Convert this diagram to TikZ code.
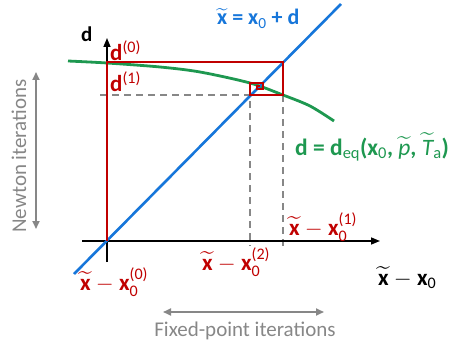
\documentclass[tikz,border=0pt]{standalone}
\usepackage{fix-cm}
\usepackage{amsmath}
\usepackage{fontspec}
\setmainfont{Carlito}
\usetikzlibrary{arrows.meta}

\definecolor{iterred}{RGB}{192,0,0}
\definecolor{lineblue}{RGB}{22,118,218}
\definecolor{curvegreen}{RGB}{30,152,80}
\definecolor{guidegray}{RGB}{135,135,135}

% tilde x, and x_0 with an iteration index
\newcommand{\tx}{\ensuremath{\widetilde{\text{\textbf{x}}}}}
\newcommand{\xzero}[1]{\textbf{x}\ensuremath{_{\textnormal{0}}^{\textnormal{(#1)}}}}

\begin{document}
\begin{tikzpicture}[x=1pt,y=-1pt,
    font=\fontsize{23}{27}\selectfont,
    lbl/.style={inner sep=0pt, anchor=base west},
    guide/.style={guidegray, line width=1.8pt, dash pattern=on 7pt off 5pt},
    span/.style={guidegray, line width=1.8pt, {Triangle[length=8pt,width=7pt]}-{Triangle[length=8pt,width=7pt]}}
]
\useasboundingbox (0,0) rectangle (458,345);

% Dashed guides
\draw[guide] (100,95) -- (250,95) -- (250,246);
\draw[guide] (283,95) -- (283,246);

% Axes
\draw[line width=1.5pt, -{Triangle[length=9pt,width=7pt]}] (82,241) -- (380,241);
\draw[line width=1.5pt, -{Triangle[length=9pt,width=7pt]}] (107,262) -- (107,38);
\draw[line width=2.6pt] (289,241) -- (357,241);

% Equilibrium curve d = d_eq
\draw[curvegreen, line width=2.8pt] plot[smooth] coordinates
    {(68,61) (107,63) (160,67) (200,72) (250,83) (283,95) (310,106) (334,121)};

% Line x = x0 + d
\draw[lineblue, line width=2.6pt] (74,274) -- (341,4);

% Iterations
\draw[iterred, line width=2pt] (107,241) -- (107,62) -- (283,62) -- (283,95)
    -- (250,95) -- (250,83) -- (263,83) -- (263,89) -- (257,89) -- (257,86) -- (260,86);

% Labels
\node[lbl, font=\fontsize{21}{25}\selectfont\bfseries] (dlab) at (81,42) {d};
\node[lbl, iterred] (d0) at (110,61) {\textbf{d}\ensuremath{^{\textnormal{(0)}}}};
\node[lbl, iterred] (d1) at (110,92) {\textbf{d}\ensuremath{^{\textnormal{(1)}}}};
\node[lbl, lineblue, font=\fontsize{22}{26}\selectfont\bfseries] (lineeq) at (217,25)
    {\tx\ = x\ensuremath{_{\textnormal{0}}} + d};
\node[lbl, curvegreen, font=\fontsize{23.5}{27}\selectfont\bfseries] (curveeq) at (295,155)
    {d = d\ensuremath{_{\textnormal{eq}}}(x\ensuremath{_{\textnormal{0}}}, \ensuremath{\widetilde{\textnormal{\itshape p}}}, \ensuremath{\widetilde{\textnormal{\itshape T}}_{\textnormal{a}}})};
\node[lbl, iterred] (x1) at (289,235) {\tx\ $-$ \xzero{1}};
\node[lbl, iterred] (x2) at (202,270) {\tx\ $-$ \xzero{2}};
\node[lbl, iterred] (x0) at (80,290) {\tx\ $-$ \xzero{0}};
\node[lbl] (xaxis) at (378,285) {\tx\ $-$ \textbf{x}\ensuremath{_{\textnormal{0}}}};

% Iteration spans
\coordinate (nt) at (36,72);
\coordinate (nb) at (36,229);
\draw[span] (nt) -- (nb);
\node[guidegray, font=\fontsize{21}{25}\selectfont, rotate=90] (newton) at (19,156) {Newton iterations};

\coordinate (fl) at (163,312);
\coordinate (fr) at (324,312);
\draw[span] (fl) -- (fr);
\node[guidegray, font=\fontsize{21}{25}\selectfont, anchor=base] (fixed) at (245,336) {Fixed-point iterations};

\end{tikzpicture}
\end{document}
